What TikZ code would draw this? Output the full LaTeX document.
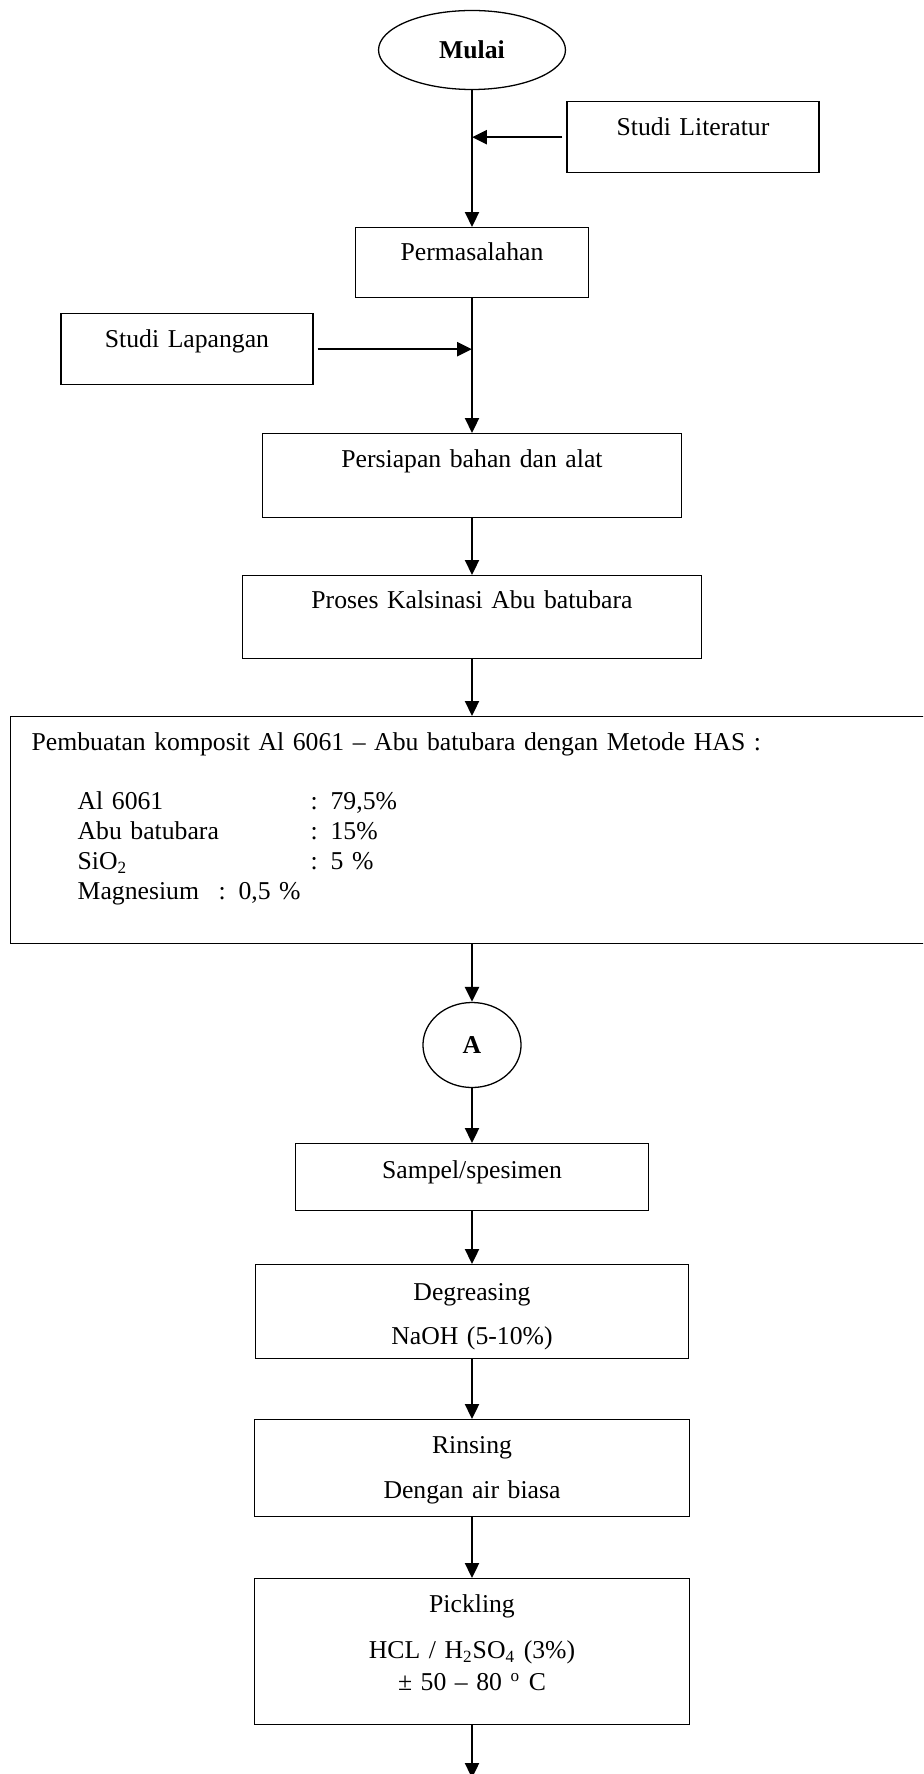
\documentclass[tikz,border=0pt]{standalone}
\usepackage{fontspec}
\setmainfont{Liberation Serif}
\usetikzlibrary{positioning,arrows.meta,shapes.geometric,calc}

\begin{document}
\begin{tikzpicture}[x=0.467pt, y=-0.467pt,
  every node/.style={font=\fontsize{12}{14}\selectfont},
  box/.style={draw,line width=0.6pt,inner sep=0pt,align=center,anchor=north,text height=15.9pt},
  oval/.style={draw,ellipse,line width=0.6pt,inner sep=0pt,font=\fontsize{12}{14}\selectfont\bfseries},
  flow/.style={->,line width=1.2pt},
  >={Triangle[length=7pt,width=6.5pt]}]
  \useasboundingbox (0,0) rectangle (923,1774);
  \clip (0,0) rectangle (923,1774);
  \node[oval,minimum width=87.3pt,minimum height=36.9pt] (mulai) at (472,50) {Mulai};
  \node[box,text width=117.7pt,text depth=17.3pt] (lit) at (693,101) {Studi Literatur};
  \node[box,text width=108.8pt,text height=15.4pt,text depth=17.3pt] (perm) at (472,227) {Permasalahan};
  \node[box,text width=117.7pt,text depth=17.3pt] (lap) at (187,313) {Studi Lapangan};
  \node[box,text width=195.7pt,text depth=23.4pt] (pers) at (472,433) {Persiapan bahan dan alat};
  \node[box,text width=214.4pt,text height=15.4pt,text depth=23.4pt] (kals) at (472,575) {Proses Kalsinasi Abu batubara};
  \node[box,anchor=north west,align=left,inner xsep=9.8pt,text width=424pt,text depth=90.1pt] (comp) at (10,716)
    {Pembuatan komposit Al 6061 – Abu batubara dengan Metode HAS :\\[13.6pt]
     \hspace*{21.5pt}\makebox[108.8pt][l]{Al 6061}: 79,5\%\\
     \hspace*{21.5pt}\makebox[108.8pt][l]{Abu batubara}: 15\%\\
     \hspace*{21.5pt}\makebox[108.8pt][l]{SiO\textsubscript{2}}: 5 \%\\
     \hspace*{21.5pt}\makebox[65.8pt][l]{Magnesium}: 0,5 \%};
  \node[oval,minimum width=45.8pt,minimum height=39.7pt] (a) at (472,1045) {A};
  \node[box,text width=164.9pt,text height=16.3pt,text depth=14.9pt] (samp) at (472,1143) {Sampel/spesimen};
  \node[box,text width=202.2pt,text height=16.8pt,text depth=27.1pt] (deg) at (472,1264) {Degreasing\\[6.5pt] NaOH (5-10\%)};
  \node[box,text width=203.1pt,text depth=29.4pt] (rins) at (472,1419) {Rinsing\\[7pt] Dengan air biasa};
  \node[box,text width=203.1pt,text depth=52.3pt] (pick) at (472,1578)
    {Pickling\\[7.5pt] HCL / H\textsubscript{2}SO\textsubscript{4} (3\%)\\[1pt] ± 50 – 80 \textsuperscript{o} C};
  \coordinate (jlit) at (mulai.south |- lit.west);
  \coordinate (jlap) at (perm.south |- lap.east);
  \coordinate (fin) at (472,1778);
  \draw[flow] (mulai.south) -- (perm.north);
  \draw[flow,shorten <=1.9pt] (lit.west) -- (jlit);
  \draw[flow] (perm.south) -- (pers.north);
  \draw[flow,shorten <=1.9pt] (lap.east) -- (jlap);
  \draw[flow] (pers.south) -- (kals.north);
  \draw[flow] (kals.south) -- (kals.south |- comp.north);
  \draw[flow] (a.north |- comp.south) -- (a.north);
  \draw[flow] (a.south) -- (samp.north);
  \draw[flow] (samp.south) -- (deg.north);
  \draw[flow] (deg.south) -- (rins.north);
  \draw[flow] (rins.south) -- (pick.north);
  \draw[flow] (pick.south) -- (fin);
\end{tikzpicture}
\end{document}
